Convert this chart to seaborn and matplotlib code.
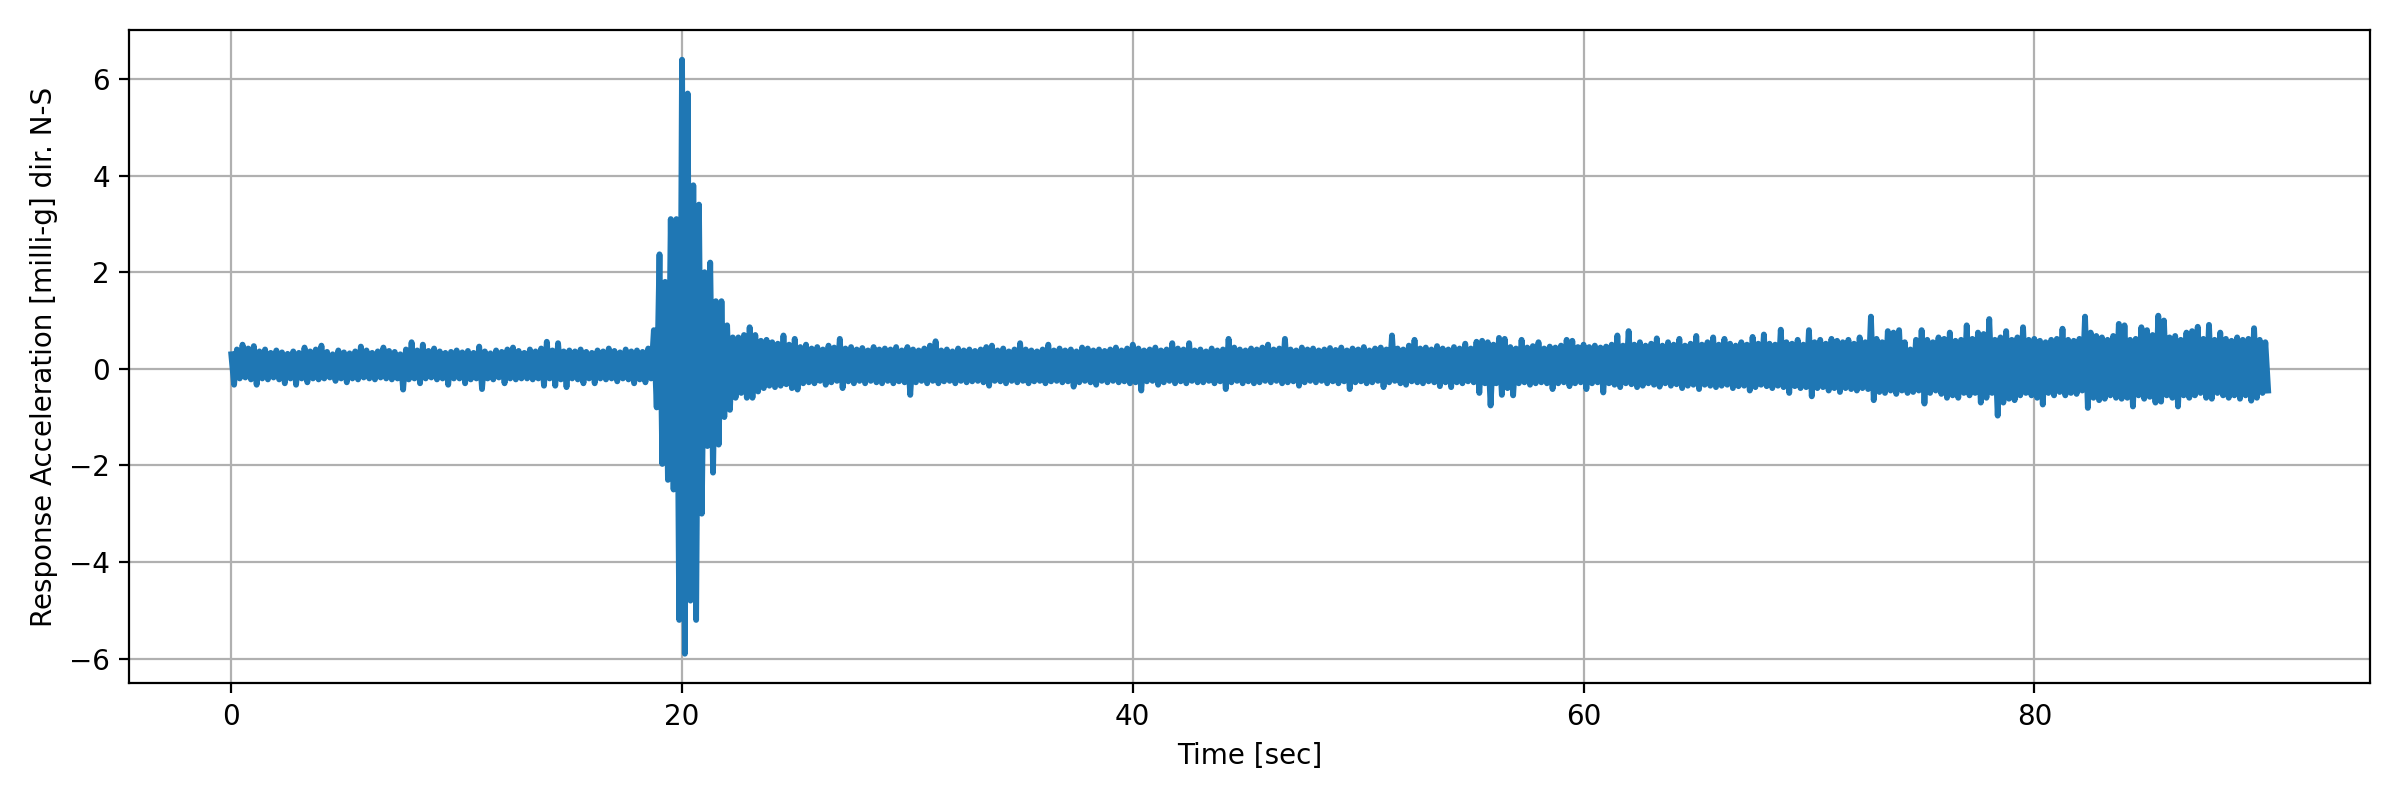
import numpy as np
import pandas as pd
import seaborn as sns
import matplotlib
matplotlib.use('Agg')
import matplotlib.pyplot as plt

# Peak values, one pair every 0.25 s
# (positive peak at t, negative peak at t + 0.125 s), one row per second
dt = 0.125

upper_peaks = [
    0.30, 0.40, 0.50, 0.42,  0.47, 0.36, 0.40, 0.33,  0.38, 0.34, 0.31, 0.36,  0.33, 0.44, 0.36, 0.40,
    0.48, 0.35, 0.30, 0.38,  0.34, 0.32, 0.36, 0.46,  0.38, 0.33, 0.36, 0.44,  0.37, 0.35, 0.30, 0.40,
    0.55, 0.38, 0.50, 0.37,  0.42, 0.36, 0.33, 0.35,  0.38, 0.34, 0.37, 0.33,  0.46, 0.36, 0.32, 0.38,
    0.35, 0.40, 0.44, 0.37,  0.33, 0.40, 0.36, 0.42,  0.56, 0.38, 0.53, 0.36,  0.38, 0.36, 0.40, 0.35,
    0.33, 0.38, 0.36, 0.42,  0.37, 0.34, 0.40, 0.36,  0.38, 0.35, 0.42, 0.80,  2.37, 1.80, 3.10, 3.10,
    6.40, 5.70, 3.80, 3.40,  2.00, 2.20, 1.40, 1.40,  0.90, 0.65, 0.65, 0.70,  0.86, 0.70, 0.58, 0.60,
    0.55, 0.52, 0.69, 0.50,  0.62, 0.45, 0.50, 0.42,  0.45, 0.40, 0.48, 0.44,  0.62, 0.42, 0.45, 0.40,
    0.43, 0.38, 0.45, 0.40,  0.42, 0.40, 0.45, 0.38,  0.45, 0.40, 0.38, 0.42,  0.48, 0.57, 0.38, 0.40,
    0.36, 0.42, 0.38, 0.40,  0.37, 0.40, 0.45, 0.48,  0.38, 0.42, 0.36, 0.40,  0.53, 0.40, 0.38, 0.36,
    0.40, 0.50, 0.38, 0.42,  0.38, 0.40, 0.36, 0.44,  0.42, 0.38, 0.40, 0.37,  0.40, 0.44, 0.38, 0.42,
    0.50, 0.42, 0.38, 0.40,  0.44, 0.38, 0.40, 0.53,  0.42, 0.40, 0.53, 0.38,  0.40, 0.36, 0.42, 0.38,
    0.40, 0.62, 0.44, 0.40,  0.38, 0.42, 0.40, 0.44,  0.50, 0.40, 0.42, 0.62,  0.40, 0.38, 0.44, 0.40,
    0.42, 0.38, 0.40, 0.43,  0.39, 0.44, 0.38, 0.42,  0.40, 0.45, 0.38, 0.42,  0.44, 0.40, 0.69, 0.42,
    0.40, 0.48, 0.60, 0.42,  0.44, 0.40, 0.47, 0.42,  0.40, 0.45, 0.42, 0.52,  0.42, 0.56, 0.58, 0.55,
    0.50, 0.64, 0.62, 0.45,  0.42, 0.60, 0.44, 0.47,  0.55, 0.42, 0.46, 0.44,  0.48, 0.60, 0.58, 0.45,
    0.50, 0.45, 0.48, 0.44,  0.46, 0.50, 0.69, 0.48,  0.78, 0.50, 0.55, 0.48,  0.52, 0.63, 0.48, 0.55,
    0.50, 0.62, 0.48, 0.52,  0.68, 0.50, 0.55, 0.65,  0.50, 0.62, 0.52, 0.48,  0.55, 0.50, 0.66, 0.52,
    0.71, 0.52, 0.50, 0.81,  0.55, 0.52, 0.60, 0.50,  0.80, 0.55, 0.60, 0.52,  0.62, 0.58, 0.55, 0.60,
    0.52, 0.65, 0.55, 1.08,  0.62, 0.55, 0.78, 0.75,  0.80, 0.55, 0.40, 0.60,  0.80, 0.60, 0.55, 0.65,
    0.62, 0.75, 0.58, 0.60,  0.90, 0.62, 0.75, 0.72,  1.03, 0.60, 0.65, 0.78,  0.60, 0.65, 0.86, 0.60,
    0.62, 0.58, 0.55, 0.60,  0.62, 0.83, 0.60, 0.58,  0.62, 1.08, 0.75, 0.68,  0.65, 0.60, 0.68, 0.93,
    0.90, 0.60, 0.62, 0.86,  0.80, 0.70, 1.10, 1.00,  0.65, 0.68, 0.60, 0.75,  0.78, 0.87, 0.62, 0.91,
    0.60, 0.75, 0.62, 0.58,  0.65, 0.60, 0.62, 0.84,  0.60, 0.55,
]

lower_peaks = [
    -0.33, -0.20, -0.18, -0.22,  -0.33, -0.20, -0.22, -0.18,  -0.22, -0.30, -0.20, -0.33,  -0.20, -0.28, -0.20, -0.22,
    -0.20, -0.18, -0.25, -0.20,  -0.28, -0.20, -0.22, -0.18,  -0.20, -0.22, -0.18, -0.20,  -0.22, -0.20, -0.43, -0.22,
    -0.20, -0.30, -0.20, -0.18,  -0.22, -0.20, -0.33, -0.20,  -0.20, -0.30, -0.22, -0.20,  -0.42, -0.20, -0.22, -0.18,
    -0.30, -0.20, -0.22, -0.20,  -0.20, -0.22, -0.20, -0.35,  -0.20, -0.35, -0.22, -0.38,  -0.20, -0.22, -0.30, -0.20,
    -0.30, -0.20, -0.22, -0.20,  -0.26, -0.20, -0.22, -0.30,  -0.22, -0.28, -0.20, -0.80,  -1.97, -2.30, -2.50, -5.20,
    -5.90, -4.80, -5.20, -3.00,  -1.60, -2.15, -1.57, -1.00,  -0.85, -0.60, -0.50, -0.60,  -0.60, -0.47, -0.40, -0.35,
    -0.38, -0.35, -0.32, -0.40,  -0.43, -0.30, -0.28, -0.30,  -0.25, -0.33, -0.28, -0.25,  -0.40, -0.26, -0.30, -0.25,
    -0.30, -0.25, -0.28, -0.30,  -0.25, -0.30, -0.26, -0.28,  -0.54, -0.28, -0.25, -0.30,  -0.25, -0.30, -0.26, -0.25,
    -0.30, -0.25, -0.28, -0.26,  -0.25, -0.28, -0.35, -0.25,  -0.26, -0.30, -0.25, -0.28,  -0.25, -0.30, -0.26, -0.25,
    -0.30, -0.26, -0.25, -0.28,  -0.26, -0.37, -0.28, -0.25,  -0.28, -0.33, -0.25, -0.28,  -0.25, -0.28, -0.26, -0.30,
    -0.28, -0.45, -0.26, -0.25,  -0.33, -0.28, -0.25, -0.30,  -0.26, -0.30, -0.25, -0.28,  -0.28, -0.25, -0.30, -0.26,
    -0.42, -0.28, -0.25, -0.30,  -0.26, -0.30, -0.28, -0.25,  -0.28, -0.25, -0.30, -0.28,  -0.26, -0.35, -0.28, -0.25,
    -0.28, -0.25, -0.30, -0.26,  -0.30, -0.26, -0.42, -0.28,  -0.26, -0.30, -0.28, -0.25,  -0.38, -0.28, -0.25, -0.30,
    -0.33, -0.26, -0.28, -0.30,  -0.26, -0.28, -0.36, -0.28,  -0.38, -0.28, -0.30, -0.26,  -0.28, -0.50, -0.30, -0.76,
    -0.30, -0.54, -0.40, -0.55,  -0.30, -0.28, -0.33, -0.30,  -0.28, -0.30, -0.42, -0.30,  -0.28, -0.36, -0.30, -0.28,
    -0.42, -0.30, -0.28, -0.49,  -0.30, -0.33, -0.38, -0.30,  -0.32, -0.38, -0.35, -0.30,  -0.33, -0.37, -0.30, -0.35,
    -0.32, -0.40, -0.35, -0.33,  -0.42, -0.33, -0.35, -0.38,  -0.35, -0.33, -0.40, -0.36,  -0.35, -0.45, -0.38, -0.33,
    -0.36, -0.40, -0.35, -0.38,  -0.50, -0.36, -0.40, -0.38,  -0.57, -0.40, -0.38, -0.45,  -0.40, -0.48, -0.40, -0.42,
    -0.45, -0.40, -0.42, -0.65,  -0.48, -0.50, -0.45, -0.52,  -0.45, -0.50, -0.48, -0.45,  -0.72, -0.50, -0.45, -0.52,
    -0.60, -0.55, -0.60, -0.50,  -0.55, -0.50, -0.70, -0.60,  -0.50, -0.97, -0.70, -0.62,  -0.65, -0.55, -0.50, -0.55,
    -0.60, -0.74, -0.50, -0.55,  -0.48, -0.55, -0.50, -0.52,  -0.45, -0.81, -0.60, -0.65,  -0.62, -0.55, -0.60, -0.62,
    -0.60, -0.78, -0.55, -0.62,  -0.58, -0.70, -0.68, -0.55,  -0.60, -0.78, -0.55, -0.60,  -0.55, -0.50, -0.60, -0.62,
    -0.50, -0.55, -0.60, -0.55,  -0.62, -0.55, -0.66, -0.60,  -0.50, -0.45,
]

# Interleave the peaks into one record
accel = np.column_stack([upper_peaks, lower_peaks]).ravel()
time = np.arange(len(accel)) * dt
df = pd.DataFrame({'time': time, 'accel': accel})

fig, ax = plt.subplots(figsize=(12, 4), dpi=200)
# slightly heavier stroke so the sparse peak trace reads as a solid band
sns.lineplot(data=df, x='time', y='accel', ax=ax, color='#1f77b4', linewidth=2.1)
ax.grid(True)
ax.set_xlabel('Time [sec]')
ax.set_ylabel('Response Acceleration [milli-g] dir. N-S')
plt.tight_layout()
plt.savefig('out.png', dpi=200)
